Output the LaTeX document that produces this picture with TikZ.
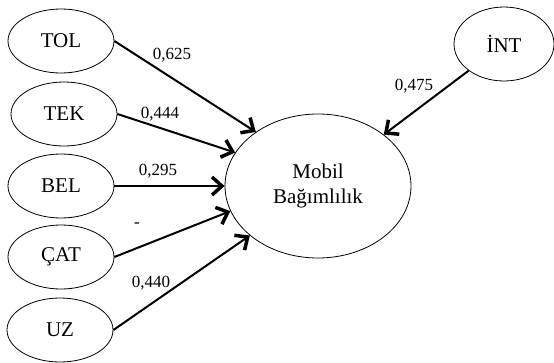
\documentclass[tikz,border=0pt]{standalone}
\usepackage{fontspec}
\setmainfont{Liberation Serif}
\usetikzlibrary{arrows.meta,shapes.geometric}

\tikzset{
  construct/.style={ellipse, draw, line width=0.8pt, inner sep=0pt,
    minimum width=106pt, minimum height=64pt,
    font=\fontsize{21}{25}\selectfont},
  path/.style={line width=2pt,
    -{Straight Barb[length=10pt,width=18pt,line width=3.5pt]}},
  coef/.style={anchor=base, inner sep=0pt, font=\fontsize{17}{20}\selectfont}
}

\begin{document}
\begin{tikzpicture}[x=1pt,y=-1pt]
  \useasboundingbox (0,0) rectangle (554,362);

  % exogenous constructs
  \node[construct] (tol) at (61,41)  {TOL};
  \node[construct] (tek) at (64,114) {TEK};
  \node[construct] (bel) at (61,186) {BEL};
  \node[construct] (cat) at (61,257) {ÇAT};
  \node[construct] (uz)  at (60,330) {UZ};
  \node[construct, minimum width=100pt, minimum height=74pt] (int) at (504,44) {İNT};

  % endogenous construct
  \node[construct, minimum width=186pt, minimum height=144pt, align=center]
    (mob) at (318,186) {Mobil\\Bağımlılık};

  % structural paths
  \draw[path] (tol.east) -- (mob.139);
  \draw[path] (tek.east) -- (mob.158);
  \draw[path] (bel.east) -- (mob.180);
  \draw[path] (cat.east) -- (mob.196);
  \draw[path] (uz.east)  -- (mob.216);
  \draw[path] (int.217)  -- (mob.38);

  % path coefficients
  \node[coef] (c1) at (172,59)  {0,625};
  \node[coef] (c2) at (160,118) {0,444};
  \node[coef] (c3) at (158,175) {0,295};
  \node[coef] (c4) at (137,227) {-};
  \node[coef] (c5) at (151,287) {0,440};
  \node[coef] (c6) at (414,90)  {0,475};
\end{tikzpicture}
\end{document}
